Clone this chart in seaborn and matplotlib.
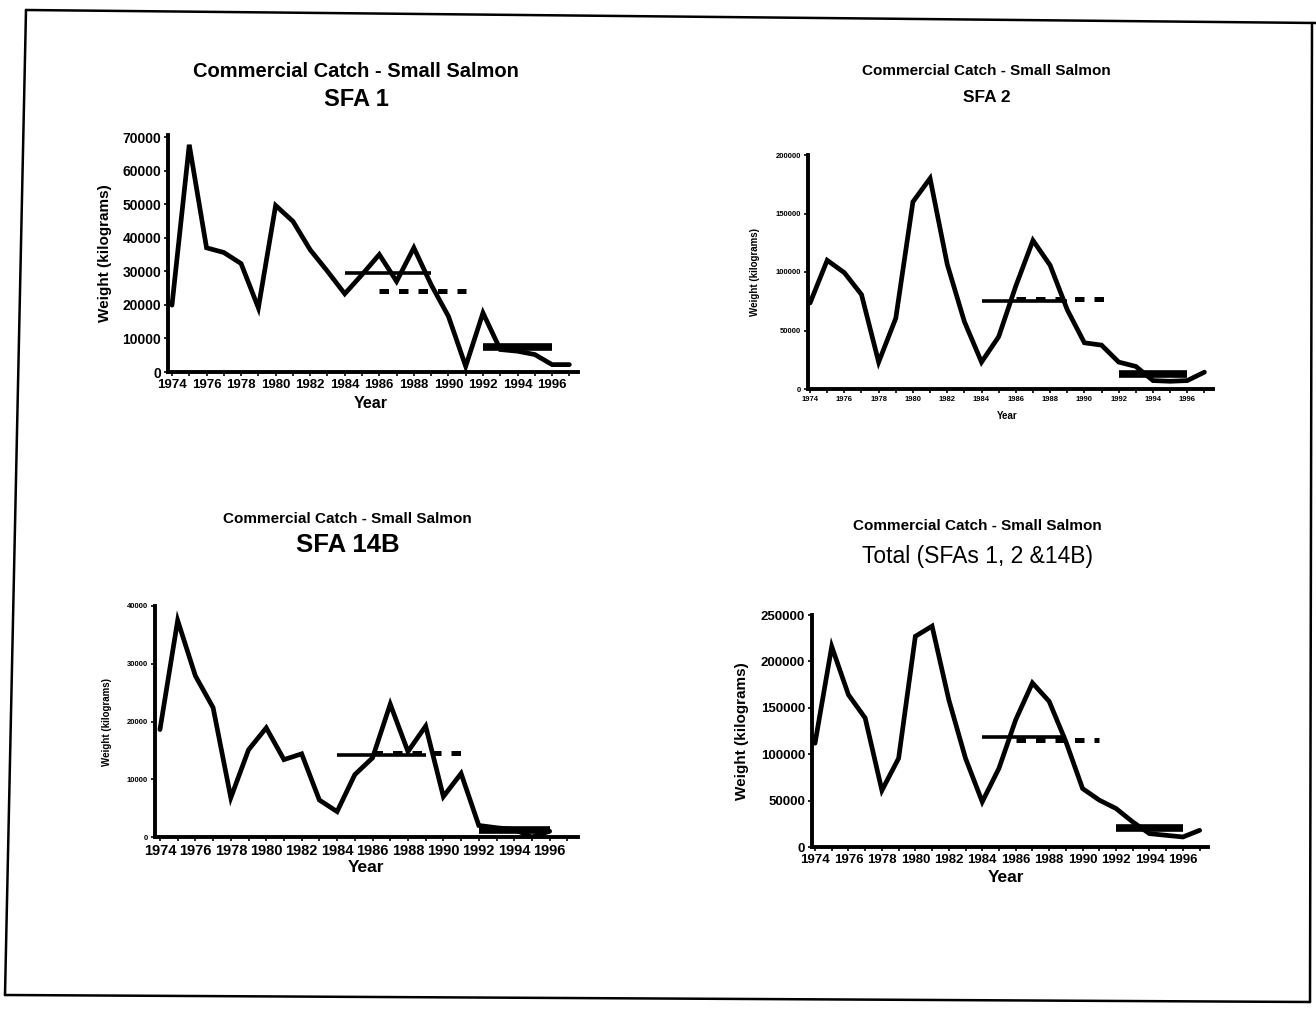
import matplotlib
matplotlib.use("Agg")
import matplotlib.pyplot as plt
import seaborn as sns
import pandas as pd
from matplotlib.lines import Line2D

sns.set_style("ticks")
plt.rcParams['font.family'] = ['Liberation Sans', 'DejaVu Sans']
plt.rcParams['text.color'] = 'black'
plt.rcParams['axes.labelcolor'] = 'black'
plt.rcParams['xtick.color'] = 'black'
plt.rcParams['ytick.color'] = 'black'

years = list(range(1974, 1998))
years_14b = list(range(1974, 1997))

sfa1 = [19900, 67700, 37000, 35600, 32300, 19100, 49600, 44900, 36400, 30000,
        23300, 29000, 35000, 27000, 37000, 26000, 16600, 1700, 17600, 6700,
        6200, 5200, 2200, 2200]
sfa2 = [73500, 110000, 99400, 80700, 23000, 60500, 160000, 180000, 106600, 57600,
        23000, 44700, 88000, 127000, 105800, 67700, 39500, 37500, 23000, 19300,
        7200, 6600, 7200, 14400]
sfa14b = [18600, 37500, 27900, 22400, 6800, 15100, 18900, 13400, 14400, 6400,
          4400, 10800, 13700, 23000, 14800, 19200, 7000, 11000, 2000, 1600,
          1300, 0, 1000]
total = [111800, 216000, 164000, 139000, 61000, 95600, 227000, 238000, 158700, 95600,
         48700, 84800, 137000, 176800, 157000, 113600, 63000, 50500, 41500, 27000,
         14400, 12600, 10800, 18000]

# reference-period means: (start year, end year, level)
mean_solid = {"sfa1": (1984, 1989, 29500), "sfa2": (1984, 1989, 75000),
              "sfa14b": (1984, 1989, 14200), "total": (1984, 1989, 119000)}
mean_dashed = {"sfa1": (1986, 1991, 24000), "sfa2": (1986, 1991.3, 77000),
               "sfa14b": (1986, 1991, 14500), "total": (1986, 1991, 115000)}
mean_recent = {"sfa1": (1992, 1996, 7300), "sfa2": (1992, 1996, 12500),
               "sfa14b": (1992, 1996, 1200), "total": (1992, 1996, 21000)}

yticks = {"sfa1": list(range(0, 70001, 10000)),
          "sfa2": list(range(0, 200001, 50000)),
          "sfa14b": list(range(0, 40001, 10000)),
          "total": list(range(0, 250001, 50000))}

W, H = 1316, 1009
fig = plt.figure(figsize=(W / 100, H / 100), dpi=100)
fig.patch.set_facecolor("white")

def px_axes(x0, x1, ytop, ybot):
    return fig.add_axes([x0 / W, 1 - ybot / H, (x1 - x0) / W, (ybot - ytop) / H])

panels = [
    dict(key="sfa1", x=years, y=sfa1, box=(168, 578, 135, 372), xlim=(1973.77, 1997.5),
         ylim=(0, 70600), xtfs=9.5, ytfs=10, yfs=11, xlfs=11.5,
         ylab_x=105, xlab=(371, 403)),
    dict(key="sfa2", x=years, y=sfa2, box=(808, 1213, 155, 389), xlim=(1973.88, 1997.5),
         ylim=(0, 200000), xtfs=5.5, ytfs=5.5, yfs=7, xlfs=7,
         ylab_x=755, xlab=(1007, 416)),
    dict(key="sfa14b", x=years_14b, y=sfa14b, box=(155, 578, 606, 837), xlim=(1973.72, 1997.6),
         ylim=(0, 40000), xtfs=10.5, ytfs=5.5, yfs=7, xlfs=12.5,
         ylab_x=107, xlab=(366, 867)),
    dict(key="total", x=years, y=total, box=(812, 1208, 615, 847), xlim=(1973.82, 1997.5),
         ylim=(0, 250000), xtfs=9.5, ytfs=9.5, yfs=11, xlfs=12.5,
         ylab_x=742, xlab=(1006, 878)),
]

for p in panels:
    x0, x1, yt, yb = p["box"]
    ax = px_axes(x0, x1, yt, yb)
    df = pd.DataFrame({"Year": p["x"], "Weight": p["y"]})
    sns.lineplot(data=df, x="Year", y="Weight", ax=ax, color="black",
                 linewidth=3.4, solid_joinstyle="miter")
    k = p["key"]
    s0, s1, sv = mean_solid[k]
    ax.hlines(sv, s0, s1, colors="black", linewidth=2.6)
    d0, d1, dv = mean_dashed[k]
    ax.hlines(dv, d0, d1, colors="black", linewidth=3.6, linestyles=(0, (1.9, 2.0)))
    r0, r1, rv = mean_recent[k]
    ax.hlines(rv, r0, r1, colors="black", linewidth=5.5)
    ax.set_xlim(*p["xlim"])
    ax.set_ylim(*p["ylim"])
    ax.set_xticks(years)
    ax.set_xticklabels([str(y) if (y % 2 == 0 and y <= 1996) else "" for y in years])
    ax.set_yticks(yticks[k])
    ax.set_yticklabels([str(v) for v in yticks[k]])
    ax.tick_params(axis="x", labelsize=p["xtfs"], length=3, width=1.2, direction="out", pad=2)
    ax.tick_params(axis="y", labelsize=p["ytfs"], length=3, width=1.2, direction="out", pad=2)
    for lab in ax.get_xticklabels() + ax.get_yticklabels():
        lab.set_fontweight("bold")
    ax.set_xlabel("Year", fontsize=p["xlfs"], fontweight="bold")
    ax.set_ylabel("Weight (kilograms)", fontsize=p["yfs"], fontweight="bold")
    ax.yaxis.label.set_verticalalignment("center")
    ax.yaxis.set_label_coords((p["ylab_x"] - x0) / (x1 - x0), 0.5)
    ax.xaxis.label.set_verticalalignment("center")
    lx, ly = p["xlab"]
    ax.xaxis.set_label_coords((lx - x0) / (x1 - x0), -(ly - yb) / (yb - yt))
    for side in ("top", "right"):
        ax.spines[side].set_visible(False)
    for side in ("left", "bottom"):
        ax.spines[side].set_linewidth(2.8)
        ax.spines[side].set_color("black")
    ax.set_facecolor("white")

def ftext(x, y, s, size, weight="bold"):
    fig.text(x / W, 1 - y / H, s, ha="center", va="center", fontsize=size,
             fontweight=weight, color="black")

ftext(356, 72, "Commercial Catch - Small Salmon", 14.5)
ftext(356, 99, "SFA 1", 17)
ftext(986, 71, "Commercial Catch - Small Salmon", 11)
ftext(987, 98, "SFA 2", 12.5)
ftext(347, 519, "Commercial Catch - Small Salmon", 11)
ftext(348, 545, "SFA 14B", 18.5)
ftext(977, 526, "Commercial Catch - Small Salmon", 11)
ftext(977, 557, "Total (SFAs 1, 2 &14B)", 16.5, weight="normal")

# scanned page border
border = [((26, 10), (1316, 23)), ((26, 10), (5, 995)), ((5, 995), (1310, 1002)),
          ((1312, 23), (1310, 1002))]
for (ax0, ay0), (ax1, ay1) in border:
    fig.add_artist(Line2D([ax0 / W, ax1 / W], [1 - ay0 / H, 1 - ay1 / H],
                          transform=fig.transFigure, color="black", linewidth=1.8))

fig.savefig("out.png", dpi=100, facecolor="white")
